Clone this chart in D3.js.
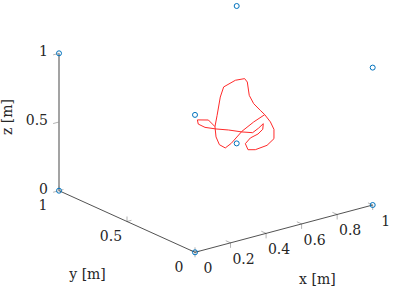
<!DOCTYPE html>
<html>
<head>
<meta charset="utf-8">
<script src="https://cdn.jsdelivr.net/npm/d3@7"></script>
<style>
  html, body { margin: 0; padding: 0; background: #fff; }
  svg { display: block; }
</style>
</head>
<body>
<svg id="chart" width="393" height="288"></svg>
<script>
// ---------- data ----------
const xTicks = [0, 0.2, 0.4, 0.6, 0.8, 1];
const xTickLabels = ["0", "0.2", "0.4", "0.6", "0.8", "1"];
const yTicks = [0, 0.5, 1];
const yTickLabels = ["0", "0.5", "1"];
const zTicks = [0, 0.5, 1];
const zTickLabels = ["0", "0.5", "1"];

// cube corner markers
const markerX = [0, 1, 0, 1, 0, 1, 0, 1];
const markerY = [0, 0, 1, 1, 0, 0, 1, 1];
const markerZ = [0, 0, 0, 0, 1, 1, 1, 1];

// red trajectory
const curveX = [0.775, 0.807, 0.827, 0.827, 0.788, 0.722, 0.681, 0.666, 0.694, 0.737,
                0.764, 0.767, 0.741, 0.707, 0.647, 0.572, 0.501, 0.439, 0.401, 0.396,
                0.458, 0.495, 0.501, 0.520, 0.553, 0.587, 0.647, 0.713, 0.775, 0.750,
                0.713, 0.688, 0.677, 0.662, 0.610, 0.544, 0.525, 0.507, 0.495];
const curveY = [0.5, 0.5, 0.5, 0.5, 0.5, 0.5, 0.5, 0.5, 0.5, 0.5,
                0.5, 0.5, 0.5, 0.5, 0.5, 0.5, 0.5, 0.5, 0.5, 0.5,
                0.5, 0.5, 0.5, 0.5, 0.5, 0.5, 0.5, 0.5, 0.5, 0.5,
                0.5, 0.5, 0.5, 0.5, 0.5, 0.5, 0.5, 0.5, 0.5];
const curveZ = [0.511, 0.447, 0.386, 0.318, 0.283, 0.274, 0.288, 0.337, 0.369, 0.383,
                0.408, 0.448, 0.425, 0.403, 0.429, 0.469, 0.501, 0.534, 0.571, 0.603,
                0.581, 0.520, 0.443, 0.380, 0.345, 0.367, 0.434, 0.479, 0.511, 0.551,
                0.612, 0.681, 0.782, 0.812, 0.818, 0.792, 0.725, 0.598, 0.520];

const xAxisLabel = "x [m]", yAxisLabel = "y [m]", zAxisLabel = "z [m]";

// ---------- projection ----------
const svg = d3.select("#chart");
const FONT = "DejaVu Serif";
const xScale = d3.scaleLinear().domain([0, 1]).range([0, 1]);
const yScale = d3.scaleLinear().domain([0, 1]).range([0, 1]);
const zScale = d3.scaleLinear().domain([0, 1]).range([0, 1]);
const origin = [195, 252.3];
const ex = [177.7, -47.3], ey = [-136, -61.6], ez = [0, -137.4];
function P(x, y, z) {
  const a = xScale(x), b = yScale(y), c = zScale(z);
  return [origin[0] + a * ex[0] + b * ey[0] + c * ez[0],
          origin[1] + a * ex[1] + b * ey[1] + c * ez[1]];
}
const line = d3.line().x(d => d[0]).y(d => d[1]);

// ---------- axes ----------
const g = svg.append("g");
const tickCol = "#b3b3b3";
function seg(a, b, col, w) {
  g.append("path").attr("d", line([a, b])).attr("stroke", col).attr("stroke-width", w).attr("fill", "none");
}
xTicks.forEach(t => {
  const p = P(t, 0, 0);
  seg(p, P(t, 0.035, 0), tickCol, 1);
  seg(p, [p[0], p[1] + 5], tickCol, 1);
});
yTicks.forEach(t => {
  const p = P(0, t, 0);
  seg(p, P(0.025, t, 0), tickCol, 1);
  seg(p, [p[0], p[1] - 5], tickCol, 1);
});
zTicks.forEach(t => {
  const p = P(0, 1, t);
  seg(p, P(-0.033, 1, t), tickCol, 1);
});

// axis lines
seg(P(0, 0, 0), P(1, 0, 0), "#262626", 0.8);
seg(P(0, 1, 0), P(0, 0, 0), "#262626", 0.8);
seg(P(0, 1, 0), P(0, 1, 1), "#8c8c8c", 1.6);

// tick labels
const fs = 14;
function label(x, y, s, anchor) {
  return g.append("text").attr("x", x).attr("y", y).attr("text-anchor", anchor || "middle")
    .attr("dominant-baseline", "central").attr("font-size", fs)
    .attr("font-family", FONT).attr("fill", "#262626").text(s);
}
xTicks.forEach((t, i) => { const p = P(t, 0, 0); label(p[0] + 13, p[1] + 16, xTickLabels[i]); });
yTicks.forEach((t, i) => { const p = P(0, t, 0); label(p[0] - 16, p[1] + 14.5, yTickLabels[i]); });
zTicks.forEach((t, i) => { const p = P(0, 1, t); label(p[0] - 11, p[1] - 2, zTickLabels[i], "end"); });

// axis labels
const xl = P(0.7, 0, 0);
label(xl[0] - 2, xl[1] + 59.5, xAxisLabel);
const yl = P(0, 0.79, 0);
label(yl[0], yl[1] + 70, yAxisLabel);
const zl = P(0, 1, 0.5);
g.append("text").attr("transform", `translate(${zl[0] - 52},${zl[1] - 5}) rotate(-90)`)
  .attr("text-anchor", "middle").attr("dominant-baseline", "central").attr("font-size", fs)
  .attr("font-family", FONT).attr("fill", "#262626").text(zAxisLabel);

// ---------- data marks ----------
const curvePts = curveX.map((x, i) => P(x, curveY[i], curveZ[i]));
svg.append("path").attr("d", line(curvePts)).attr("stroke", "#ff2a2a").attr("stroke-width", 1)
  .attr("fill", "none").attr("stroke-linejoin", "round");

svg.selectAll("circle.m").data(markerX.map((x, i) => P(x, markerY[i], markerZ[i])))
  .enter().append("circle").attr("class", "m")
  .attr("cx", d => d[0]).attr("cy", d => d[1]).attr("r", 2.5)
  .attr("fill", "none").attr("stroke", "#0072BD").attr("stroke-width", 1);
</script>
</body>
</html>
